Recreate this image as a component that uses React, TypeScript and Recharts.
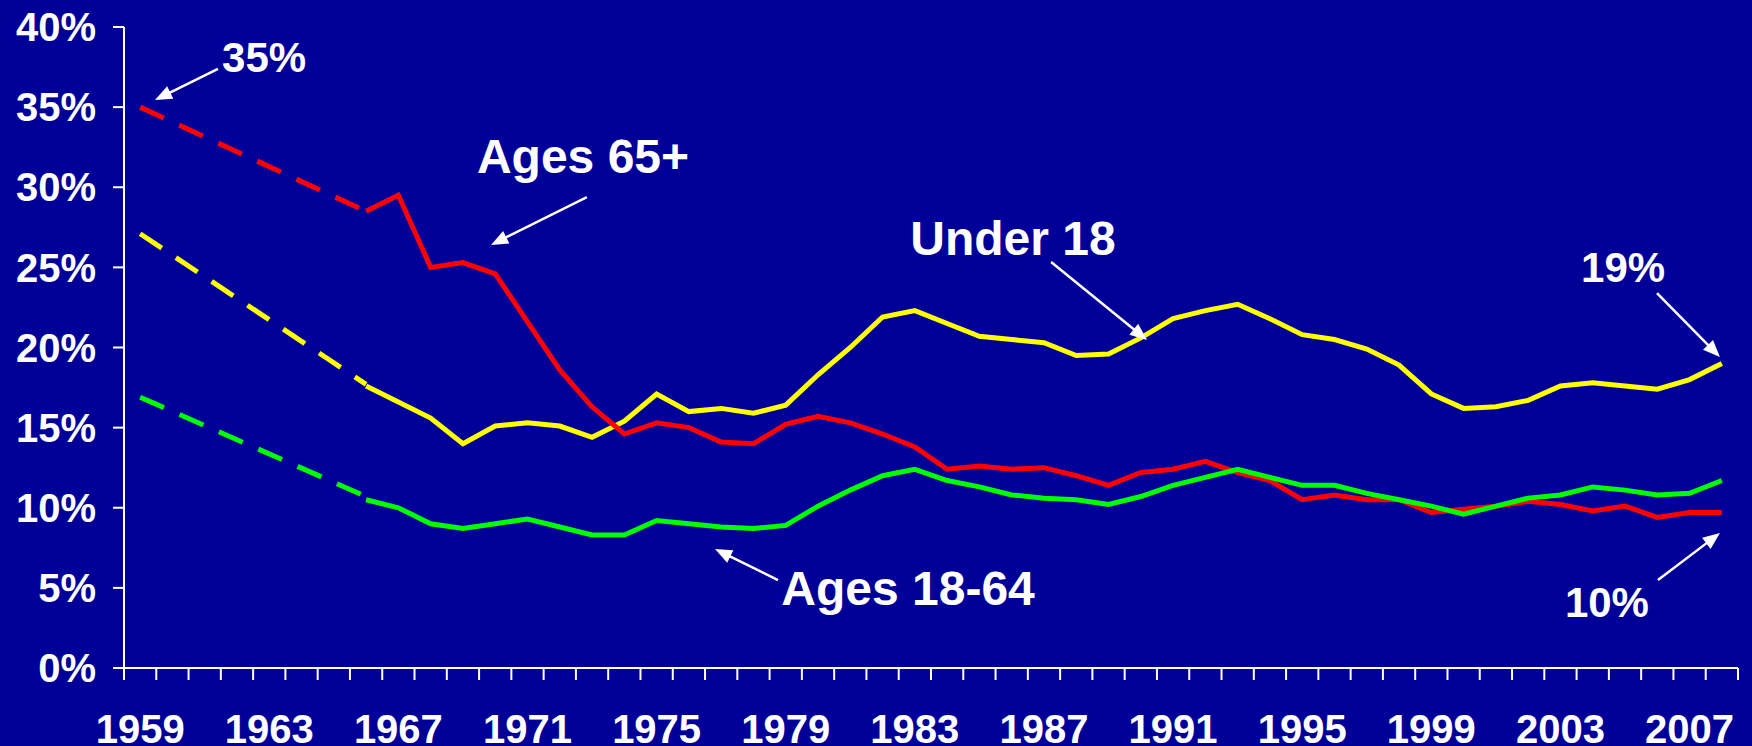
import React from 'react';
import { LineChart, Line, XAxis, YAxis, ReferenceLine, ReferenceDot } from 'recharts';

const YEARS = [
  1959, 1960, 1961, 1962, 1963, 1964, 1965, 1966, 1967, 1968,
  1969, 1970, 1971, 1972, 1973, 1974, 1975, 1976, 1977, 1978,
  1979, 1980, 1981, 1982, 1983, 1984, 1985, 1986, 1987, 1988,
  1989, 1990, 1991, 1992, 1993, 1994, 1995, 1996, 1997, 1998,
  1999, 2000, 2001, 2002, 2003, 2004, 2005, 2006, 2007, 2008,
];

// Solid series, 1966 .. 2008
const SOLID_START = 1966;
const UNDER18 = [
  17.6, 16.6, 15.6, 14.0, 15.1, 15.3, 15.1, 14.4, 15.4, 17.1,
  16.0, 16.2, 15.9, 16.4, 18.3, 20.0, 21.9, 22.3, 21.5, 20.7,
  20.5, 20.3, 19.5, 19.6, 20.6, 21.8, 22.3, 22.7, 21.8, 20.8,
  20.5, 19.9, 18.9, 17.1, 16.2, 16.3, 16.7, 17.6, 17.8, 17.6,
  17.4, 18.0, 19.0,
];
const AGES65 = [
  28.5, 29.5, 25.0, 25.3, 24.6, 21.6, 18.6, 16.3, 14.6, 15.3,
  15.0, 14.1, 14.0, 15.2, 15.7, 15.3, 14.6, 13.8, 12.4, 12.6,
  12.4, 12.5, 12.0, 11.4, 12.2, 12.4, 12.9, 12.2, 11.7, 10.5,
  10.8, 10.5, 10.5, 9.7, 9.9, 10.1, 10.4, 10.2, 9.8, 10.1,
  9.4, 9.7, 9.7,
];
const AGES1864 = [
  10.5, 10.0, 9.0, 8.7, 9.0, 9.3, 8.8, 8.3, 8.3, 9.2,
  9.0, 8.8, 8.7, 8.9, 10.1, 11.1, 12.0, 12.4, 11.7, 11.3,
  10.8, 10.6, 10.5, 10.2, 10.7, 11.4, 11.9, 12.4, 11.9, 11.4,
  11.4, 10.9, 10.5, 10.1, 9.6, 10.1, 10.6, 10.8, 11.3, 11.1,
  10.8, 10.9, 11.7,
];

// Dashed (early) series: only end points known
const EARLY_YEARS = [1959, 1966];
const UNDER18_EARLY = [27.1, 17.7];
const AGES65_EARLY = [35.0, 28.5];
const AGES1864_EARLY = [16.9, 10.7];

const Y_TICKS = [0, 5, 10, 15, 20, 25, 30, 35, 40];
const X_LABEL_YEARS = [1959, 1963, 1967, 1971, 1975, 1979, 1983, 1987, 1991, 1995, 1999, 2003, 2007];

// Annotations (data coordinates: year, percent)
const NOTE_TEXTS = ['35%', 'Ages 65+', 'Under 18', '19%', '10%', 'Ages 18-64'];
const NOTE_X = [1962.84, 1972.72, 1986.04, 2004.94, 2004.44, 1982.79];
const NOTE_Y = [37.19, 30.89, 25.77, 24.09, 3.18, 3.93];
const NOTE_SIZE = [42, 48, 48, 42, 42, 48];
const ARROW_FROM_X = [1961.41, 1972.84, 1987.22, 2005.99, 2006.02, 1978.76];
const ARROW_FROM_Y = [37.38, 29.39, 25.34, 23.4, 5.49, 5.49];
const ARROW_TO_X = [1959.46, 1969.87, 1990.19, 2007.94, 2007.94, 1976.81];
const ARROW_TO_Y = [35.44, 26.4, 20.47, 19.41, 8.42, 7.43];

const FONT = '"Liberation Sans", Arial, Helvetica, sans-serif';
const BG = '#000099';

const xTicks = [...YEARS.map((y) => y - 0.5), YEARS[YEARS.length - 1] + 0.5, ...X_LABEL_YEARS].sort((a, b) => a - b);

const rows = YEARS.map((year) => {
  const si = year - SOLID_START;
  const ei = EARLY_YEARS.indexOf(year);
  return {
    year,
    u18: si >= 0 ? UNDER18[si] : null,
    a65: si >= 0 ? AGES65[si] : null,
    a1864: si >= 0 ? AGES1864[si] : null,
    u18e: ei >= 0 ? UNDER18_EARLY[ei] : null,
    a65e: ei >= 0 ? AGES65_EARLY[ei] : null,
    a1864e: ei >= 0 ? AGES1864_EARLY[ei] : null,
  };
});

const XTick = (props: any) => {
  const { x, y, payload } = props;
  const v = payload.value;
  if (Number.isInteger(v)) {
    return (
      <text x={x} y={y + 75} textAnchor="middle" fill="#fff" fontSize={40} fontWeight="bold" fontFamily={FONT}>
        {v}
      </text>
    );
  }
  return <line x1={x} y1={y} x2={x} y2={y + 12} stroke="#fff" strokeWidth={2} />;
};

const Arrow = (p: any) => {
  const { x1, y1, x2, y2 } = p;
  const dx = x2 - x1;
  const dy = y2 - y1;
  const len = Math.hypot(dx, dy) || 1;
  const ux = dx / len;
  const uy = dy / len;
  const hl = 17;
  const hw = 7;
  const bx = x2 - ux * hl;
  const by = y2 - uy * hl;
  const px = -uy;
  const py = ux;
  return (
    <g>
      <line x1={x1} y1={y1} x2={bx + ux * 2} y2={by + uy * 2} stroke="#fff" strokeWidth={2.5} />
      <polygon points={`${x2},${y2} ${bx + px * hw},${by + py * hw} ${bx - px * hw},${by - py * hw}`} fill="#fff" />
    </g>
  );
};

export default function App() {
  return (
    <div style={{ position: 'fixed', left: 0, top: 0, width: 1752, height: 746, background: BG }}>
      <LineChart width={1752} height={746} data={rows} margin={{ top: 27, right: 14, bottom: 0, left: 0 }}>
        <XAxis
          dataKey="year"
          type="number"
          domain={[1958.5, 2008.5]}
          allowDataOverflow
          ticks={xTicks}
          interval={0}
          tick={<XTick />}
          tickLine={false}
          tickSize={0}
          tickMargin={0}
          height={78}
          axisLine={{ stroke: '#fff', strokeWidth: 2 }}
        />
        <YAxis
          type="number"
          domain={[0, 40]}
          ticks={Y_TICKS}
          interval={0}
          width={124}
          tickSize={11}
          tickMargin={17}
          tickFormatter={(v: number) => `${v}%`}
          tick={{ fill: '#fff', fontSize: 40, fontWeight: 'bold', fontFamily: FONT }}
          tickLine={{ stroke: '#fff', strokeWidth: 2 }}
          axisLine={{ stroke: '#fff', strokeWidth: 2 }}
        />
        <Line dataKey="u18e" stroke="#ffff00" strokeWidth={5} strokeDasharray="26 17" dot={false} connectNulls isAnimationActive={false} />
        <Line dataKey="a65e" stroke="#ff0000" strokeWidth={5} strokeDasharray="26 17" dot={false} connectNulls isAnimationActive={false} />
        <Line dataKey="a1864e" stroke="#00ff00" strokeWidth={5} strokeDasharray="26 17" dot={false} connectNulls isAnimationActive={false} />
        <Line dataKey="u18" stroke="#ffff00" strokeWidth={5} dot={false} isAnimationActive={false} />
        <Line dataKey="a65" stroke="#ff0000" strokeWidth={5} dot={false} isAnimationActive={false} />
        <Line dataKey="a1864" stroke="#00ff00" strokeWidth={5} dot={false} isAnimationActive={false} />
        {NOTE_TEXTS.map((t, i) => (
          <ReferenceLine
            key={`arrow-${i}`}
            segment={[
              { x: ARROW_FROM_X[i], y: ARROW_FROM_Y[i] },
              { x: ARROW_TO_X[i], y: ARROW_TO_Y[i] },
            ]}
            ifOverflow="visible"
            shape={(p: any) => <Arrow {...p} />}
          />
        ))}
        {NOTE_TEXTS.map((t, i) => (
          <ReferenceDot
            key={`note-${i}`}
            x={NOTE_X[i]}
            y={NOTE_Y[i]}
            r={0}
            ifOverflow="visible"
            shape={(p: any) => (
              <text x={p.cx} y={p.cy} textAnchor="middle" fill="#fff" fontSize={NOTE_SIZE[i]} fontWeight="bold" fontFamily={FONT}>
                {t}
              </text>
            )}
          />
        ))}
      </LineChart>
    </div>
  );
}
